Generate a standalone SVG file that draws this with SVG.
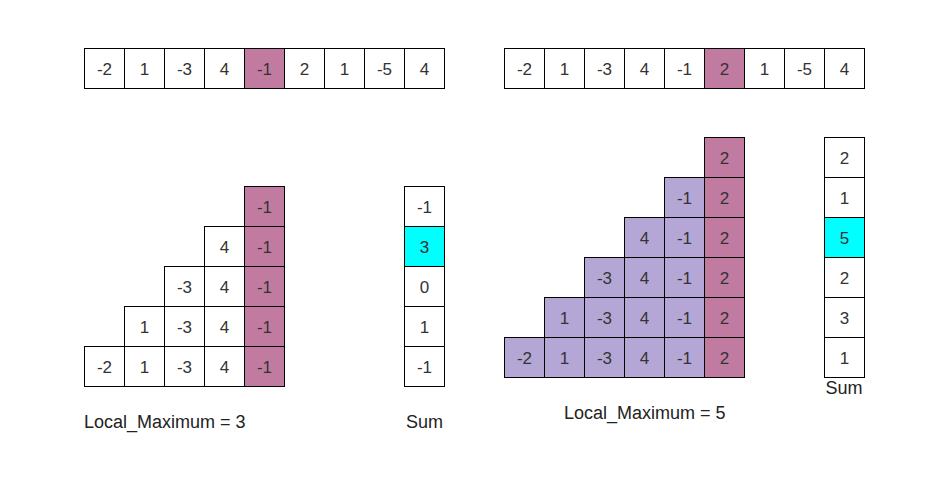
<svg xmlns="http://www.w3.org/2000/svg" width="939" height="480" viewBox="0 0 939 480">
<style>
rect{stroke:#000;stroke-width:1;fill:#fff}
.p{fill:#C27BA0}
.l{fill:#B4A7D6}
.c{fill:#00FFFF}
text{font-family:"Liberation Sans",Arial,sans-serif;font-size:17px;fill:#333;text-anchor:middle}
.lab{fill:#222;text-anchor:start}
</style>
<rect x="0" y="0" width="939" height="480" style="stroke:none;fill:#fff"/>
<g id="array-left">
<rect x="84.5" y="48.5" width="40" height="40"/><text x="104.5" y="74.5">-2</text>
<rect x="124.5" y="48.5" width="40" height="40"/><text x="144.5" y="74.5">1</text>
<rect x="164.5" y="48.5" width="40" height="40"/><text x="184.5" y="74.5">-3</text>
<rect x="204.5" y="48.5" width="40" height="40"/><text x="224.5" y="74.5">4</text>
<rect class="p" x="244.5" y="48.5" width="40" height="40"/><text x="264.5" y="74.5">-1</text>
<rect x="284.5" y="48.5" width="40" height="40"/><text x="304.5" y="74.5">2</text>
<rect x="324.5" y="48.5" width="40" height="40"/><text x="344.5" y="74.5">1</text>
<rect x="364.5" y="48.5" width="40" height="40"/><text x="384.5" y="74.5">-5</text>
<rect x="404.5" y="48.5" width="40" height="40"/><text x="424.5" y="74.5">4</text>
</g>
<g id="array-right">
<rect x="504.5" y="48.5" width="40" height="40"/><text x="524.5" y="74.5">-2</text>
<rect x="544.5" y="48.5" width="40" height="40"/><text x="564.5" y="74.5">1</text>
<rect x="584.5" y="48.5" width="40" height="40"/><text x="604.5" y="74.5">-3</text>
<rect x="624.5" y="48.5" width="40" height="40"/><text x="644.5" y="74.5">4</text>
<rect x="664.5" y="48.5" width="40" height="40"/><text x="684.5" y="74.5">-1</text>
<rect class="p" x="704.5" y="48.5" width="40" height="40"/><text x="724.5" y="74.5">2</text>
<rect x="744.5" y="48.5" width="40" height="40"/><text x="764.5" y="74.5">1</text>
<rect x="784.5" y="48.5" width="40" height="40"/><text x="804.5" y="74.5">-5</text>
<rect x="824.5" y="48.5" width="40" height="40"/><text x="844.5" y="74.5">4</text>
</g>
<g id="triangle-left">
<rect class="p" x="244.5" y="186.5" width="40" height="40"/><text x="264.5" y="212.5">-1</text>
<rect x="204.5" y="226.5" width="40" height="40"/><text x="224.5" y="252.5">4</text>
<rect class="p" x="244.5" y="226.5" width="40" height="40"/><text x="264.5" y="252.5">-1</text>
<rect x="164.5" y="266.5" width="40" height="40"/><text x="184.5" y="292.5">-3</text>
<rect x="204.5" y="266.5" width="40" height="40"/><text x="224.5" y="292.5">4</text>
<rect class="p" x="244.5" y="266.5" width="40" height="40"/><text x="264.5" y="292.5">-1</text>
<rect x="124.5" y="306.5" width="40" height="40"/><text x="144.5" y="332.5">1</text>
<rect x="164.5" y="306.5" width="40" height="40"/><text x="184.5" y="332.5">-3</text>
<rect x="204.5" y="306.5" width="40" height="40"/><text x="224.5" y="332.5">4</text>
<rect class="p" x="244.5" y="306.5" width="40" height="40"/><text x="264.5" y="332.5">-1</text>
<rect x="84.5" y="346.5" width="40" height="40"/><text x="104.5" y="372.5">-2</text>
<rect x="124.5" y="346.5" width="40" height="40"/><text x="144.5" y="372.5">1</text>
<rect x="164.5" y="346.5" width="40" height="40"/><text x="184.5" y="372.5">-3</text>
<rect x="204.5" y="346.5" width="40" height="40"/><text x="224.5" y="372.5">4</text>
<rect class="p" x="244.5" y="346.5" width="40" height="40"/><text x="264.5" y="372.5">-1</text>
</g>
<g id="sum-left">
<rect x="404.5" y="186.5" width="40" height="40"/><text x="424.5" y="212.5">-1</text>
<rect class="c" x="404.5" y="226.5" width="40" height="40"/><text x="424.5" y="252.5">3</text>
<rect x="404.5" y="266.5" width="40" height="40"/><text x="424.5" y="292.5">0</text>
<rect x="404.5" y="306.5" width="40" height="40"/><text x="424.5" y="332.5">1</text>
<rect x="404.5" y="346.5" width="40" height="40"/><text x="424.5" y="372.5">-1</text>
</g>
<g id="triangle-right">
<rect class="p" x="704.5" y="137.5" width="40" height="40"/><text x="724.5" y="163.5">2</text>
<rect class="l" x="664.5" y="177.5" width="40" height="40"/><text x="684.5" y="203.5">-1</text>
<rect class="p" x="704.5" y="177.5" width="40" height="40"/><text x="724.5" y="203.5">2</text>
<rect class="l" x="624.5" y="217.5" width="40" height="40"/><text x="644.5" y="243.5">4</text>
<rect class="l" x="664.5" y="217.5" width="40" height="40"/><text x="684.5" y="243.5">-1</text>
<rect class="p" x="704.5" y="217.5" width="40" height="40"/><text x="724.5" y="243.5">2</text>
<rect class="l" x="584.5" y="257.5" width="40" height="40"/><text x="604.5" y="283.5">-3</text>
<rect class="l" x="624.5" y="257.5" width="40" height="40"/><text x="644.5" y="283.5">4</text>
<rect class="l" x="664.5" y="257.5" width="40" height="40"/><text x="684.5" y="283.5">-1</text>
<rect class="p" x="704.5" y="257.5" width="40" height="40"/><text x="724.5" y="283.5">2</text>
<rect class="l" x="544.5" y="297.5" width="40" height="40"/><text x="564.5" y="323.5">1</text>
<rect class="l" x="584.5" y="297.5" width="40" height="40"/><text x="604.5" y="323.5">-3</text>
<rect class="l" x="624.5" y="297.5" width="40" height="40"/><text x="644.5" y="323.5">4</text>
<rect class="l" x="664.5" y="297.5" width="40" height="40"/><text x="684.5" y="323.5">-1</text>
<rect class="p" x="704.5" y="297.5" width="40" height="40"/><text x="724.5" y="323.5">2</text>
<rect class="l" x="504.5" y="337.5" width="40" height="40"/><text x="524.5" y="363.5">-2</text>
<rect class="l" x="544.5" y="337.5" width="40" height="40"/><text x="564.5" y="363.5">1</text>
<rect class="l" x="584.5" y="337.5" width="40" height="40"/><text x="604.5" y="363.5">-3</text>
<rect class="l" x="624.5" y="337.5" width="40" height="40"/><text x="644.5" y="363.5">4</text>
<rect class="l" x="664.5" y="337.5" width="40" height="40"/><text x="684.5" y="363.5">-1</text>
<rect class="p" x="704.5" y="337.5" width="40" height="40"/><text x="724.5" y="363.5">2</text>
</g>
<g id="sum-right">
<rect x="824.5" y="137.5" width="40" height="40"/><text x="844.5" y="163.5">2</text>
<rect x="824.5" y="177.5" width="40" height="40"/><text x="844.5" y="203.5">1</text>
<rect class="c" x="824.5" y="217.5" width="40" height="40"/><text x="844.5" y="243.5">5</text>
<rect x="824.5" y="257.5" width="40" height="40"/><text x="844.5" y="283.5">2</text>
<rect x="824.5" y="297.5" width="40" height="40"/><text x="844.5" y="323.5">3</text>
<rect x="824.5" y="337.5" width="40" height="40"/><text x="844.5" y="363.5">1</text>
</g>
<g id="labels">
<text class="lab" x="84" y="428" style="font-size:18px">Local_Maximum = 3</text>
<text x="424.5" y="428" style="font-size:18px;fill:#222">Sum</text>
<text class="lab" x="564" y="419" style="font-size:18px">Local_Maximum = 5</text>
<text x="844" y="394" style="font-size:18px;fill:#222">Sum</text>
</g>
</svg>
